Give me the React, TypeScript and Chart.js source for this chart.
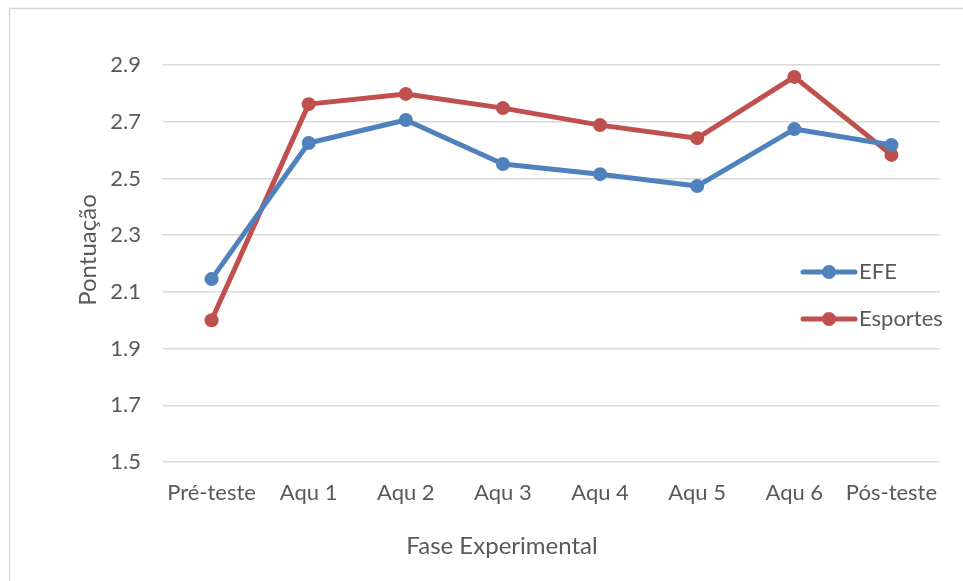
import React, { useEffect, useRef } from "react";
import { Chart, registerables } from "chart.js";

Chart.register(...registerables);

const categories = ["Pré-teste", "Aqu 1", "Aqu 2", "Aqu 3", "Aqu 4", "Aqu 5", "Aqu 6", "Pós-teste"];
const efeValues = [2.145, 2.625, 2.706, 2.551, 2.515, 2.473, 2.674, 2.618];
const esportesValues = [2.0, 2.762, 2.798, 2.748, 2.688, 2.642, 2.858, 2.583];
const seriesNames = ["EFE", "Esportes"];
const seriesColors = ["#4F81BD", "#C0504D"];
const yMin = 1.5;
const yMax = 2.9;
const yStep = 0.2;
const xTitle = "Fase Experimental";
const yTitle = "Pontuação";

const FONT = "Lato, 'Liberation Sans', sans-serif";
const TEXT_COLOR = "#595959";

const overlayPlugin = {
  id: "overlay",
  afterDraw(chart: any) {
    const ctx = chart.ctx;
    ctx.save();
    // frame border
    ctx.strokeStyle = "#D9D9D9";
    ctx.lineWidth = 1.5;
    ctx.beginPath();
    ctx.moveTo(9.5, 581);
    ctx.lineTo(9.5, 8.5);
    ctx.lineTo(963, 8.5);
    ctx.stroke();

    // axis titles
    ctx.fillStyle = TEXT_COLOR;
    ctx.font = `24px ${FONT}`;
    ctx.textAlign = "center";
    ctx.textBaseline = "middle";
    ctx.fillText(xTitle, 502, 546);
    ctx.save();
    ctx.translate(88, 250);
    ctx.rotate(-Math.PI / 2);
    ctx.fillText(yTitle, 0, 0);
    ctx.restore();

    // legend
    ctx.font = `22px ${FONT}`;
    const legendY = [272, 319];
    seriesNames.forEach((name, i) => {
      const y = legendY[i];
      ctx.strokeStyle = seriesColors[i];
      ctx.lineWidth = 5;
      ctx.lineCap = "round";
      ctx.beginPath();
      ctx.moveTo(803, y);
      ctx.lineTo(855, y);
      ctx.stroke();
      ctx.fillStyle = seriesColors[i];
      ctx.beginPath();
      ctx.arc(829, y, 7, 0, Math.PI * 2);
      ctx.fill();
      ctx.fillStyle = TEXT_COLOR;
      ctx.textAlign = "left";
      ctx.fillText(name, 859, y);
    });
    ctx.restore();
  },
};

export default function App() {
  const canvasRef = useRef<HTMLCanvasElement>(null);

  useEffect(() => {
    const canvas = canvasRef.current;
    if (!canvas) return;
    const datasets = [efeValues, esportesValues].map((vals, i) => ({
      label: seriesNames[i],
      data: vals,
      borderColor: seriesColors[i],
      backgroundColor: seriesColors[i],
      borderWidth: 5,
      pointRadius: 7,
      pointHoverRadius: 7,
      pointBorderWidth: 0,
      pointBackgroundColor: seriesColors[i],
      tension: 0,
      borderCapStyle: "round" as const,
      borderJoinStyle: "round" as const,
    }));
    const chart = new Chart(canvas, {
      type: "line",
      data: { labels: categories, datasets },
      options: {
        responsive: false,
        animation: false,
        devicePixelRatio: 1,
        layout: { padding: { left: 0, top: 65, right: 23, bottom: 0 } },
        plugins: {
          legend: { display: false },
          tooltip: { enabled: false },
          title: { display: false },
        },
        scales: {
          x: {
            offset: true,
            grid: { display: false, drawTicks: false },
            border: { display: false },
            ticks: {
              padding: 18,
              color: TEXT_COLOR,
              font: { family: FONT, size: 22 },
              maxRotation: 0,
              autoSkip: false,
            },
            afterFit(scale: any) {
              scale.height = 119;
            },
          },
          y: {
            min: yMin,
            max: yMax,
            grid: { color: "#D9D9D9", lineWidth: 1.5, drawTicks: false },
            border: { display: false },
            ticks: {
              stepSize: yStep,
              padding: 22,
              color: TEXT_COLOR,
              font: { family: FONT, size: 22 },
              callback: (v: any) => Number(v).toFixed(1),
            },
            afterFit(scale: any) {
              scale.width = 163;
            },
          },
        },
      },
      plugins: [overlayPlugin],
    });
    return () => chart.destroy();
  }, []);

  return (
    <div style={{ position: "fixed", left: 0, top: 0, width: 963, height: 581, background: "#fff" }}>
      <canvas ref={canvasRef} width={963} height={581} style={{ display: "block" }} />
    </div>
  );
}
